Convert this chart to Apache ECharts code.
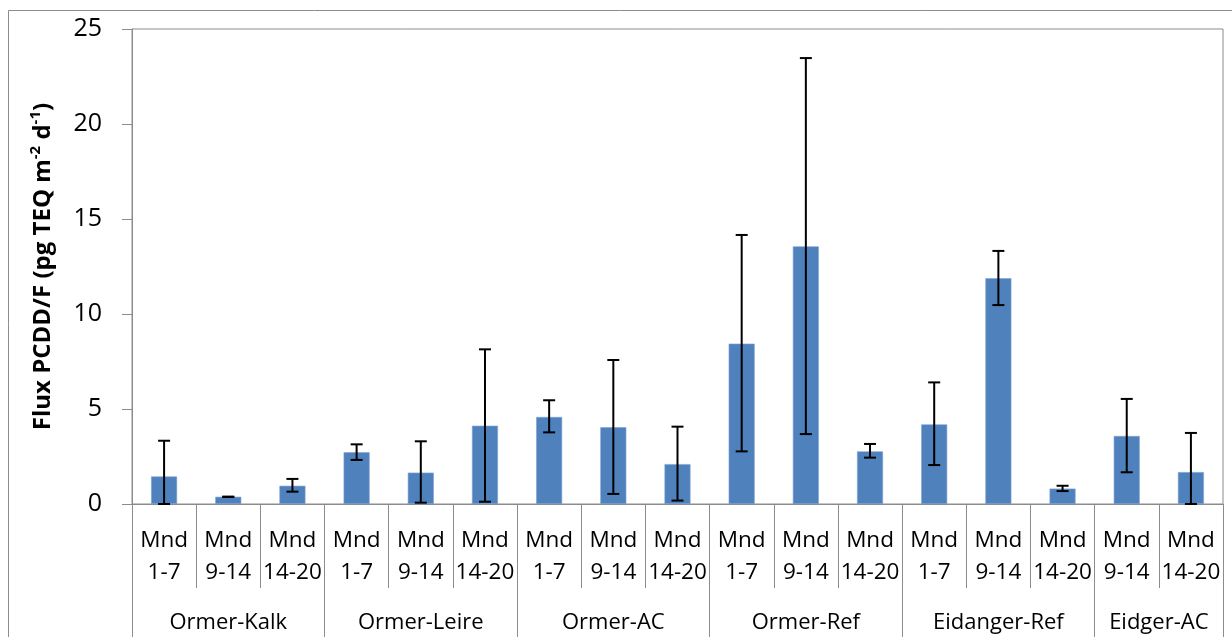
<!DOCTYPE html>
<html>
<head>
<meta charset="utf-8">
<script src="https://cdn.jsdelivr.net/npm/echarts@6/dist/echarts.min.js"></script>
<style>
html,body{margin:0;padding:0;background:#fff;}
#chart{width:1232px;height:637px;}
</style>
</head>
<body>
<div id="chart"></div>
<script>
// ---- data ----
var groups = ['Ormer-Kalk', 'Ormer-Leire', 'Ormer-AC', 'Ormer-Ref', 'Eidanger-Ref', 'Eidger-AC'];
var groupPeriods = [
  ['1-7', '9-14', '14-20'],
  ['1-7', '9-14', '14-20'],
  ['1-7', '9-14', '14-20'],
  ['1-7', '9-14', '14-20'],
  ['1-7', '9-14', '14-20'],
  ['9-14', '14-20']
];
var values  = [1.45, 0.38, 0.96, 2.72, 1.65, 4.12, 4.58, 4.04, 2.10, 8.44, 13.56, 2.77, 4.19, 11.88, 0.81, 3.58, 1.68];
var errLow  = [0.00, 0.37, 0.65, 2.32, 0.07, 0.12, 3.77, 0.53, 0.18, 2.77, 3.68, 2.44, 2.05, 10.47, 0.68, 1.67, 0.00];
var errHigh = [3.33, 0.39, 1.32, 3.14, 3.30, 8.14, 5.46, 7.58, 4.07, 14.16, 23.47, 3.16, 6.40, 13.32, 0.96, 5.53, 3.74];
var yTicks = [0, 5, 10, 15, 20, 25];

// ---- build ----
var categories = [];
groupPeriods.forEach(function (ps) { ps.forEach(function (p) { categories.push('Mnd\n' + p); }); });

// group axis: two slots per bar, boundaryGap false -> 2*N+1 points
var nSlots = categories.length * 2 + 1;
var groupAxisData = [];
for (var i = 0; i < nSlots; i++) groupAxisData.push('');
var boundaries = {0: true};
var pos = 0;
groups.forEach(function (g, gi) {
  var n = groupPeriods[gi].length;
  groupAxisData[pos + n] = g;   // center of group (in half-bar slots)
  pos += 2 * n;
  boundaries[pos] = true;
});

var errData = values.map(function (v, i) { return [i, errLow[i], errHigh[i]]; });

var FONT = 'Open Sans';
var chart = echarts.init(document.getElementById('chart'), null, {renderer: 'canvas'});
chart.setOption({
  backgroundColor: '#fff',
  animation: false,
  textStyle: {fontFamily: FONT},
  graphic: [{
    type: 'rect', silent: true,
    shape: {x: 8.5, y: 10.5, width: 1260, height: 660},
    style: {fill: 'none', stroke: '#8c8c8c', lineWidth: 1}
  }],
  grid: {left: 132, right: 9, top: 29, bottom: 133, show: true, borderColor: '#8c8c8c', borderWidth: 1, backgroundColor: 'transparent'},
  xAxis: [{
    type: 'category',
    data: categories,
    position: 'bottom',
    axisLine: {lineStyle: {color: '#8c8c8c', width: 1}},
    axisTick: {show: true, interval: 0, length: 84, lineStyle: {color: '#8c8c8c'}},
    axisLabel: {interval: 0, color: '#000', fontSize: 22.5, lineHeight: 32, margin: 21, fontFamily: FONT}
  }, {
    type: 'category',
    data: groupAxisData,
    boundaryGap: false,
    position: 'bottom',
    axisLine: {show: false},
    axisTick: {show: true, length: 140, lineStyle: {color: '#8c8c8c'},
      interval: function (idx) { return !!boundaries[idx]; }},
    axisLabel: {color: '#000', fontSize: 22, margin: 108, fontFamily: FONT,
      interval: function (idx, val) { return val !== ''; }}
  }],
  yAxis: {
    type: 'value',
    min: yTicks[0], max: yTicks[yTicks.length - 1], interval: 5,
    name: '{b|Flux PCDD/F (pg TEQ m}{s|-2}{b| d}{s|-1}{b|)}',
    nameLocation: 'middle', nameRotate: 90, nameGap: 74,
    nameTextStyle: {
      rich: {
        b: {fontSize: 24, fontWeight: 'bold', color: '#000', fontFamily: FONT, lineHeight: 30},
        s: {fontSize: 15, fontWeight: 'bold', color: '#000', fontFamily: FONT, verticalAlign: 'top', lineHeight: 30}
      }
    },
    axisLine: {show: true, lineStyle: {color: '#8c8c8c', width: 1}},
    axisTick: {show: true, length: 10, lineStyle: {color: '#8c8c8c'}},
    axisLabel: {color: '#000', fontSize: 25, margin: 30, fontFamily: FONT},
    splitLine: {show: false}
  },
  series: [{
    type: 'bar',
    xAxisIndex: 0,
    data: values,
    barWidth: 26,
    itemStyle: {color: '#4F81BD', borderColor: '#7fa3d3', borderWidth: 0.6}
  }, {
    type: 'custom',
    xAxisIndex: 0,
    data: errData,
    encode: {x: 0, y: [1, 2]},
    z: 10,
    renderItem: function (params, api) {
      var idx = api.value(0);
      var hi = api.coord([idx, api.value(2)]);
      var lo = api.coord([idx, api.value(1)]);
      var hw = 6;
      var st = {stroke: '#000', lineWidth: 2};
      return {
        type: 'group',
        children: [
          {type: 'line', shape: {x1: hi[0], y1: hi[1], x2: lo[0], y2: lo[1]}, style: st},
          {type: 'line', shape: {x1: hi[0] - hw, y1: hi[1], x2: hi[0] + hw, y2: hi[1]}, style: st},
          {type: 'line', shape: {x1: lo[0] - hw, y1: lo[1], x2: lo[0] + hw, y2: lo[1]}, style: st}
        ]
      };
    }
  }]
});
</script>
</body>
</html>
